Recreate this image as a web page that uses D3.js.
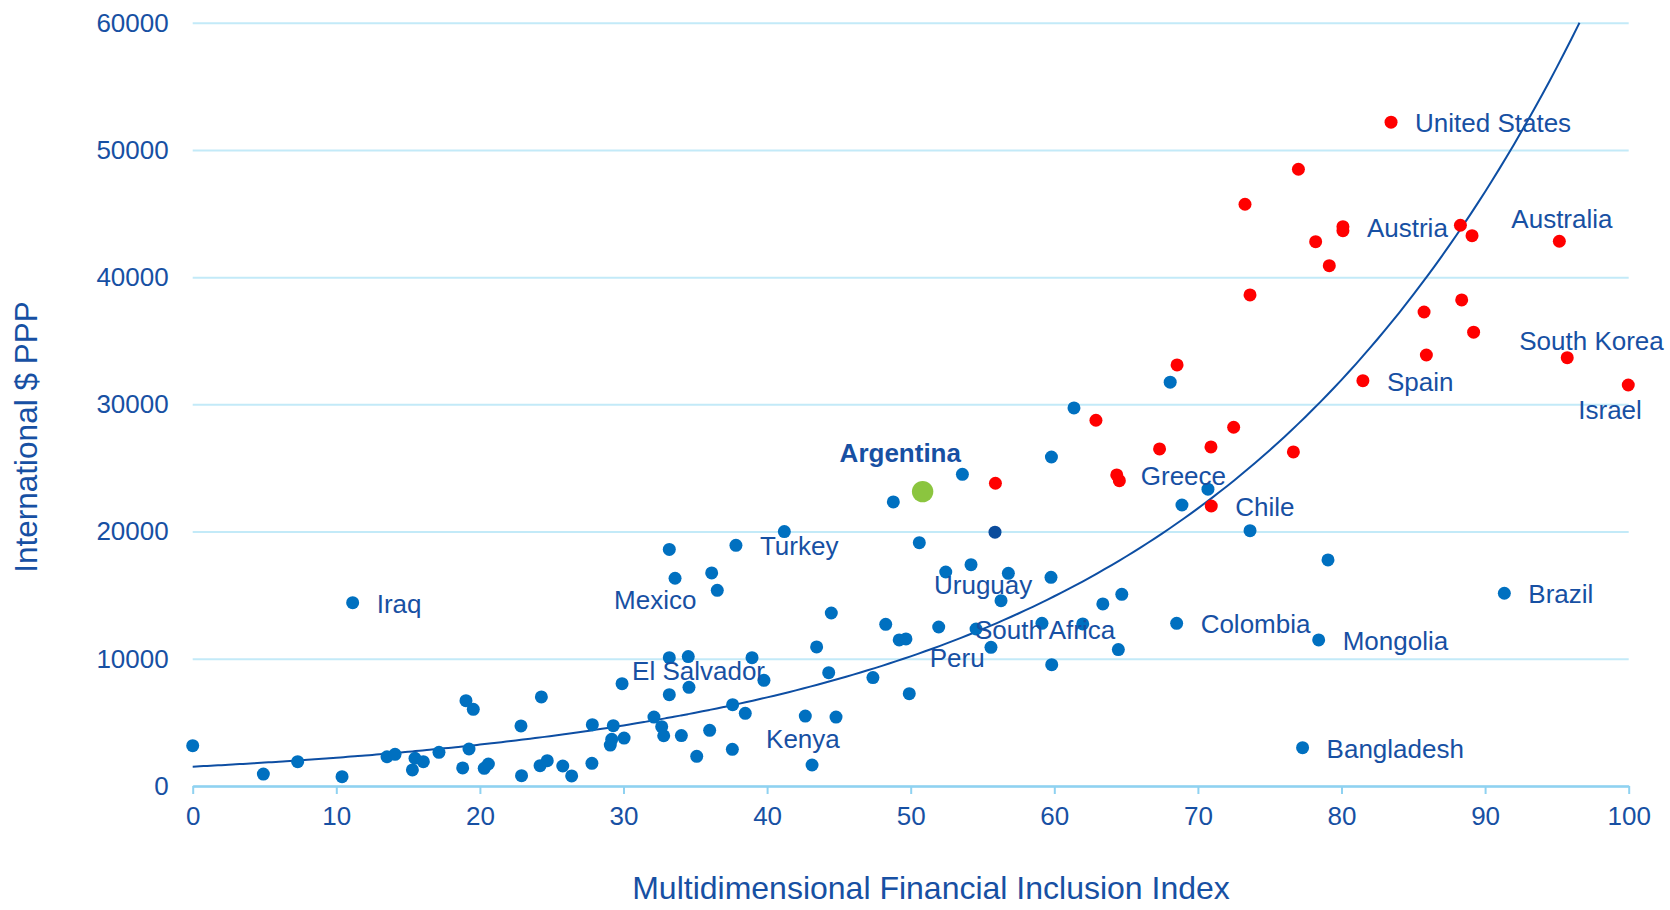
<!DOCTYPE html>
<html>
<head>
<meta charset="utf-8">
<script src="https://cdn.jsdelivr.net/npm/d3@7"></script>
<style>
  body { margin: 0; background: #fff; }
  svg text { font-family: "Liberation Sans", Arial, sans-serif; }
</style>
</head>
<body>
<div class="chart"></div>
<script>
// Financial inclusion vs income scatter

// emerging economies [index, GDP per capita PPP, label]
var emerging = [
  [0, 3170], [4.92, 940], [7.31, 1910], [10.4, 730], [11.14, 14410, "Iraq"],
  [13.53, 2300], [14.09, 2490], [15.3, 1260], [15.48, 2180], [16.06, 1910],
  [17.15, 2650], [18.8, 1420], [19.03, 6710], [19.24, 2910], [19.54, 6030],
  [20.3, 1390], [20.59, 1730], [22.86, 4720], [22.9, 810], [24.19, 1600],
  [24.28, 7000], [24.69, 1990], [25.77, 1570], [26.39, 790], [27.8, 1780],
  [27.83, 4820], [29.08, 3220], [29.18, 3670], [29.29, 4740], [29.9, 8040, "El Salvador"],
  [30.04, 3770], [32.12, 5420], [32.66, 4660], [32.8, 3950], [33.19, 7180],
  [33.19, 10090], [33.19, 18600], [33.59, 16330, "Mexico"], [34.03, 3960], [34.51, 10170],
  [34.56, 7760], [35.1, 2330], [36.0, 4380], [36.14, 16750], [36.53, 15380],
  [37.58, 2880], [37.6, 6390], [37.83, 18920, "Turkey"], [38.48, 5710], [38.95, 10090],
  [39.78, 8310], [41.2, 20000], [42.66, 5500], [43.13, 1650, "Kenya"], [43.45, 10930],
  [44.29, 8910], [44.47, 13600], [44.8, 5420], [47.37, 8520], [48.26, 12710],
  [48.79, 22330], [49.2, 11480], [49.67, 11560], [49.9, 7260], [50.6, 19130],
  [51.95, 12500, "Peru"], [52.44, 16820], [53.6, 24500], [54.2, 17400, "Uruguay"], [54.55, 12340],
  [55.59, 10900], [56.29, 14570], [56.8, 16720], [59.14, 12790, "South Africa"], [59.77, 16400],
  [59.8, 25860], [59.82, 9540], [61.37, 29720], [61.98, 12740], [63.38, 14310],
  [64.46, 10720], [64.7, 15070], [68.07, 31740], [68.52, 12790, "Colombia"], [68.89, 22090],
  [70.7, 23330], [73.63, 20070], [77.29, 3010, "Bangladesh"], [78.41, 11480, "Mongolia"],
  [79.06, 17770], [91.34, 15150, "Brazil"]
];

// advanced economies
var advanced = [
  [83.45, 52180, "United States"], [77.0, 48480], [73.28, 45730], [80.1, 43970, "Austria"],
  [80.1, 43650], [88.28, 44080], [89.09, 43260], [78.2, 42790], [95.17, 42820, "Australia"],
  [79.15, 40900], [73.63, 38600], [88.37, 38210], [85.75, 37260], [89.2, 35670],
  [85.91, 33880], [95.72, 33670, "South Korea"], [68.55, 33100], [81.49, 31860, "Spain"],
  [99.97, 31520, "Israel"], [62.9, 28750], [72.49, 28200], [67.33, 26500], [70.91, 26650],
  [76.65, 26260], [64.35, 24450, "Greece"], [64.53, 24000], [55.9, 23800], [70.93, 22010, "Chile"]
];

var highlight = [[55.87, 19950]];
var argentina = [[50.83, 23140, "Argentina"]];

var xTicks = [0, 10, 20, 30, 40, 50, 60, 70, 80, 90, 100];
var yTicks = [0, 10000, 20000, 30000, 40000, 50000, 60000];

// exponential trend y = a * e^(b x)
var trendA = 1520, trendB = 0.03806;

// label offsets in px from the dot (default: right of dot)
var labelOffset = {
  "Mexico": [-61, 31],
  "El Salvador": [10, -4],
  "Argentina": [-83, -30],
  "Uruguay": [-37, 29],
  "South Africa": [-67, 16],
  "Peru": [-9, 40],
  "Kenya": [-46, -17],
  "Australia": [-48, -13],
  "South Korea": [-48, -8],
  "Israel": [-50, 34]
};

var margin = {top: 22.7, right: 41.3, bottom: 124, left: 192.7},
    width = 1670 - margin.left - margin.right,
    height = 910 - margin.top - margin.bottom;

var textCol = "#1750a3";

var root = d3.select(".chart")
  .append("svg")
    .attr("width", 1670)
    .attr("height", 910);

var svg = root.append("g")
    .attr("transform", "translate(" + margin.left + "," + margin.top + ")");

var x = d3.scaleLinear().domain([0, 100]).range([0, width]);
var y = d3.scaleLinear().domain([0, 60000]).range([height, 0]);

// gridlines + y labels
var yAxis = svg.append("g")
  .call(d3.axisLeft(y).tickValues(yTicks).tickSize(-width).tickPadding(24).tickFormat(d3.format("d")));
yAxis.select(".domain").remove();
yAxis.selectAll("line").attr("stroke", "#c3eaf8").attr("stroke-width", 2);
yAxis.selectAll("text")
  .attr("fill", textCol)
  .style("font-size", "26px");

// x axis
var xAxis = svg.append("g")
  .attr("transform", "translate(0," + height + ")")
  .call(d3.axisBottom(x).tickValues(xTicks).tickSize(8).tickPadding(13).tickSizeOuter(0));
xAxis.select(".domain").attr("stroke", "#8fd2f1").attr("stroke-width", 2.5);
xAxis.selectAll("line").attr("stroke", "#8fd2f1").attr("stroke-width", 2);
xAxis.selectAll("text")
  .attr("fill", textCol)
  .style("font-size", "26px");

// trend line
var xEnd = Math.log(60000 / trendA) / trendB;
var trendPts = d3.range(0, xEnd, 0.5).concat([xEnd]).map(function(v) {
  return [v, trendA * Math.exp(trendB * v)];
});
svg.append("path")
  .datum(trendPts)
  .attr("fill", "none")
  .attr("stroke", "#0d4ea3")
  .attr("stroke-width", 2)
  .attr("d", d3.line()
    .x(function(d) { return x(d[0]); })
    .y(function(d) { return y(d[1]); })
    .curve(d3.curveMonotoneX));

function dots(data, col, r) {
  svg.append("g").selectAll("circle")
    .data(data)
    .enter()
    .append("circle")
    .attr("cx", function(d) { return x(d[0]); })
    .attr("cy", function(d) { return y(d[1]); })
    .attr("r", r)
    .attr("fill", col);
}

dots(emerging, "#0070c0", 6.5);
dots(advanced, "#ff0000", 6.5);
dots(highlight, "#0b4c9c", 6.5);
dots(argentina, "#8bc53f", 10.7);

// labels
var labelled = emerging.concat(advanced, argentina).filter(function(d) { return d[2]; });
svg.append("g").selectAll("text")
  .data(labelled)
  .enter()
  .append("text")
  .attr("x", function(d) { return x(d[0]) + (labelOffset[d[2]] || [24, 10])[0]; })
  .attr("y", function(d) { return y(d[1]) + (labelOffset[d[2]] || [24, 10])[1]; })
  .attr("fill", textCol)
  .style("font-size", "26px")
  .style("font-weight", function(d) { return d[2] == "Argentina" ? "bold" : "normal"; })
  .text(function(d) { return d[2]; });

// axis titles
root.append("text")
  .attr("x", 931)
  .attr("y", 899)
  .style("text-anchor", "middle")
  .style("font-size", "32px")
  .attr("fill", textCol)
  .text("Multidimensional Financial Inclusion Index");

root.append("text")
  .attr("transform", "translate(37,437) rotate(-90)")
  .style("text-anchor", "middle")
  .style("font-size", "31.5px")
  .attr("fill", textCol)
  .text("International $ PPP");
</script>
</body>
</html>
